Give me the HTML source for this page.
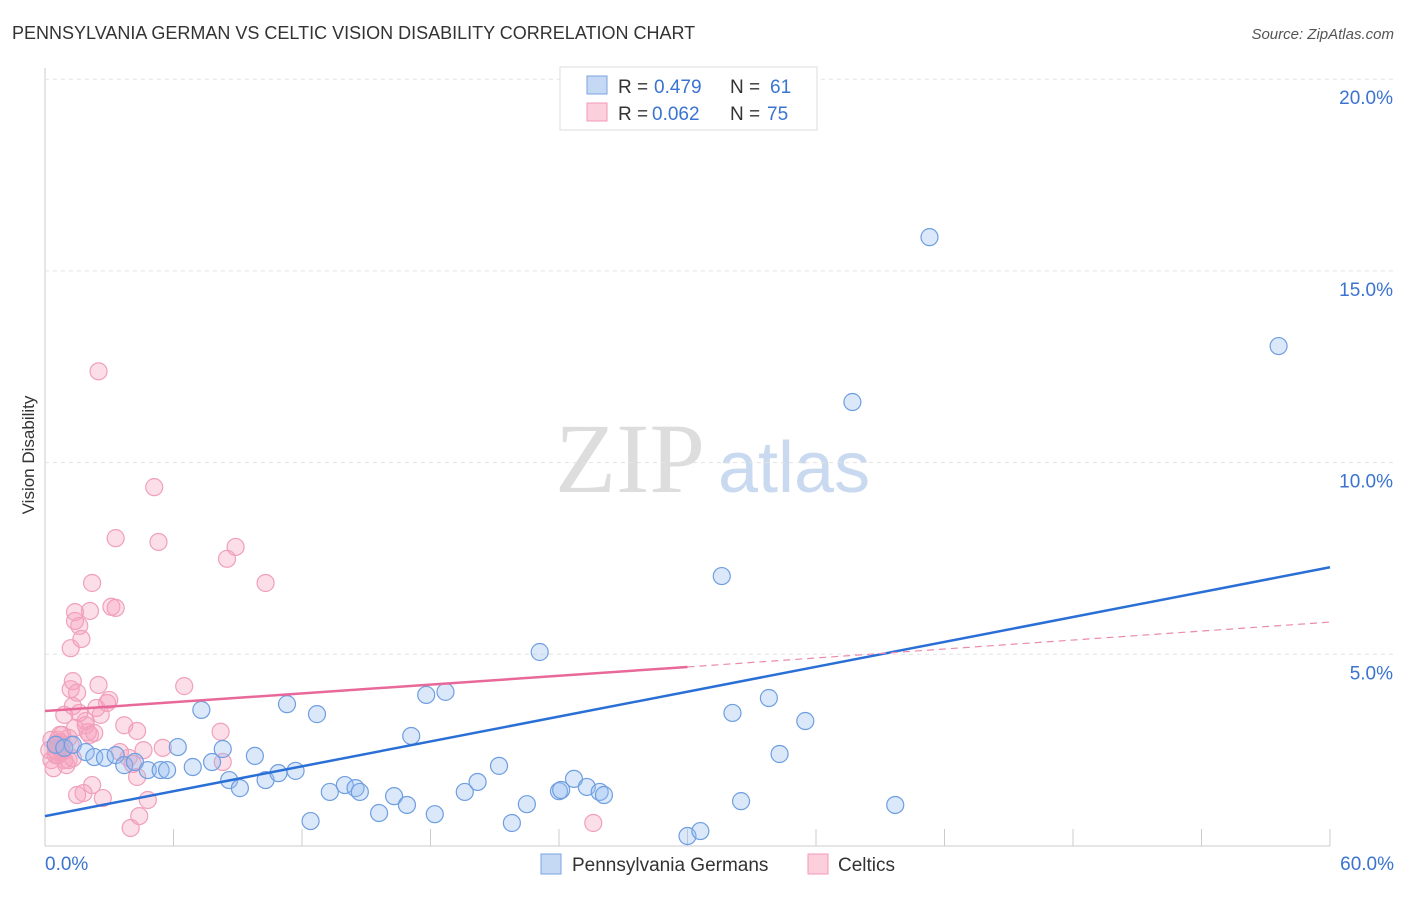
<!DOCTYPE html>
<html><head><meta charset="utf-8"><style>
body{margin:0;background:#fff;font-family:"Liberation Sans",sans-serif;}
</style></head><body>
<svg id="c" width="1406" height="892" xmlns="http://www.w3.org/2000/svg">
<text x="12" y="39" font-size="18" fill="#333">PENNSYLVANIA GERMAN VS CELTIC VISION DISABILITY CORRELATION CHART</text>
<text x="1394" y="39" font-size="15" fill="#555" font-style="italic" text-anchor="end">Source: ZipAtlas.com</text>
<text transform="translate(34,455) rotate(-90)" font-size="17" fill="#333" text-anchor="middle">Vision Disability</text>
<text x="555" y="492" font-size="100" fill="#ddd" font-family="Liberation Serif,serif">ZIP</text>
<text x="718" y="492" font-size="72" fill="#c9d9ef">atlas</text>
<g id="grid"></g><g id="pts"></g><g id="lines"></g>
<rect x="560" y="67" width="257" height="63" fill="#fff" stroke="#ddd"/>
<rect x="587" y="76" width="20" height="18" fill="#c5d9f5" stroke="#7aa3e0"/>
<rect x="587" y="103" width="20" height="18" fill="#fbd0dc" stroke="#f09ab5"/>
<g font-size="19">
<text x="618" y="93" fill="#333">R =</text><text x="654" y="93" fill="#3a73d0">0.479</text>
<text x="730" y="93" fill="#333">N =</text><text x="770" y="93" fill="#3a73d0">61</text>
<text x="618" y="120" fill="#333">R =</text><text x="652" y="120" fill="#3a73d0">0.062</text>
<text x="730" y="120" fill="#333">N =</text><text x="767" y="120" fill="#3a73d0">75</text>
</g>
<rect x="541" y="854" width="20" height="20" fill="#c5d9f5" stroke="#7aa3e0"/>
<text x="572" y="871" font-size="19" fill="#333">Pennsylvania Germans</text>
<rect x="808" y="854" width="20" height="20" fill="#fbd0dc" stroke="#f09ab5"/>
<text x="838" y="871" font-size="19" fill="#333">Celtics</text>
<text x="45" y="870" font-size="19" fill="#3a73d0">0.0%</text>
<text x="1394" y="870" font-size="19" fill="#3a73d0" text-anchor="end">60.0%</text>
</svg>
<script>
const yTicks=[5,10,15,20];
const yTickLabels=["5.0%","10.0%","15.0%","20.0%"];
const blueX=[0.5,0.9,1.3,1.9,2.3,2.8,3.3,3.7,4.2,4.8,5.4,5.7,6.2,6.9,7.3,7.8,8.3,8.6,9.1,9.8,10.3,10.9,11.3,11.7,12.4,12.7,13.3,14.0,14.5,14.7,15.6,16.3,16.9,17.1,17.8,18.2,18.7,19.6,20.2,21.2,21.8,22.5,23.1,24.0,24.1,24.7,25.3,25.9,26.1,30.0,30.6,31.6,32.1,32.5,33.8,34.3,35.5,37.7,39.7,41.3,57.6];
const blueY=[2.64,2.56,2.64,2.45,2.32,2.3,2.37,2.11,2.19,1.98,1.98,1.98,2.58,2.06,3.55,2.19,2.53,1.72,1.51,2.35,1.72,1.9,3.7,1.96,0.65,3.44,1.41,1.59,1.51,1.41,0.86,1.3,1.07,2.87,3.94,0.83,4.02,1.41,1.67,2.09,0.6,1.09,5.06,1.43,1.46,1.75,1.54,1.41,1.33,0.26,0.39,7.04,3.47,1.17,3.86,2.4,3.26,11.58,1.07,15.88,13.04];
const pinkX=[0.2,0.3,0.4,0.5,0.6,0.6,0.7,0.8,0.8,0.9,1.1,1.2,0.3,0.5,0.6,0.7,0.8,0.9,1.2,1.2,1.3,1.4,1.4,1.5,1.6,1.7,1.9,2.0,2.1,2.2,2.2,2.4,2.5,2.5,2.6,2.9,3.0,3.1,3.3,3.3,3.5,3.7,3.9,4.0,4.1,4.3,4.3,4.4,4.6,4.8,5.1,5.3,5.5,6.5,8.2,8.3,8.5,8.9,10.3,25.6,1.8,1.5,2.7,1.3,1.6,2.1,0.7,0.5,1.0,1.4,1.9,2.3,1.1,1.3];
const pinkY=[2.5,2.24,2.03,2.64,2.77,2.37,2.56,2.45,2.9,2.24,2.82,2.64,2.77,2.37,2.64,2.71,2.64,3.42,5.16,4.09,4.3,5.87,6.1,4.0,5.74,5.4,3.26,2.97,6.13,6.86,1.59,3.6,12.38,4.2,3.42,3.73,3.81,6.24,6.21,8.03,2.45,3.15,2.3,0.47,2.14,3.0,1.8,0.78,2.5,1.2,9.36,7.93,2.56,4.17,2.98,2.19,7.49,7.8,6.86,0.6,1.38,1.33,1.25,3.65,3.47,2.9,2.9,2.5,2.11,3.08,3.15,2.95,2.24,2.29];
const blueLine=[[0,0.78],[60,7.27]];
const pinkSolid=[[0,3.52],[30,4.67]];
const pinkDash=[[30,4.67],[60,5.84]];
const X=v=>45+v*(1285/60), Y=v=>846-v*38.34;
const NS="http://www.w3.org/2000/svg";
function mk(t,a,p){const e=document.createElementNS(NS,t);for(const k in a)e.setAttribute(k,a[k]);p.appendChild(e);return e;}
const g=document.getElementById('grid');
mk('line',{x1:45,y1:68,x2:45,y2:846,stroke:'#ccc'},g);
mk('line',{x1:45,y1:846,x2:1330,y2:846,stroke:'#ccc'},g);
for(let i=0;i<=10;i++){const l=mk('line',{x1:X(i*6),y1:829,x2:X(i*6),y2:846,stroke:'#ccc'},g);

}
yTicks.forEach((t,i)=>{const l=mk('line',{x1:45,y1:Y(t),x2:1394,y2:Y(t),stroke:'#e3e3e3','stroke-dasharray':'4,4'},g);


const tx=mk('text',{x:1393,y:Y(t)+25,'font-size':19,fill:'#3a73d0','text-anchor':'end'},g);tx.textContent=yTickLabels[i];

});
const p=document.getElementById('pts');
pinkX.forEach((x,i)=>{const c=mk('circle',{cx:X(x),cy:Y(pinkY[i]),r:8.5,fill:'rgba(246,160,188,0.35)',stroke:'#f0a0ba','stroke-width':1.2},p);

});
blueX.forEach((x,i)=>{const c=mk('circle',{cx:X(x),cy:Y(blueY[i]),r:8.5,fill:'rgba(150,190,240,0.35)',stroke:'#6f9ee0','stroke-width':1.2},p);

});
const L=document.getElementById('lines');
let a=mk('line',{x1:X(blueLine[0][0]),y1:Y(blueLine[0][1]),x2:X(blueLine[1][0]),y2:Y(blueLine[1][1]),stroke:'#2a6fd6','stroke-width':2.5},L);


a=mk('line',{x1:X(pinkSolid[0][0]),y1:Y(pinkSolid[0][1]),x2:X(pinkSolid[1][0]),y2:Y(pinkSolid[1][1]),stroke:'#e8689a','stroke-width':2.5},L);


a=mk('line',{x1:X(pinkDash[0][0]),y1:Y(pinkDash[0][1]),x2:X(pinkDash[1][0]),y2:Y(pinkDash[1][1]),stroke:'#eb8aae','stroke-width':1.2,'stroke-dasharray':'7,5'},L);


</script>
</body></html>
